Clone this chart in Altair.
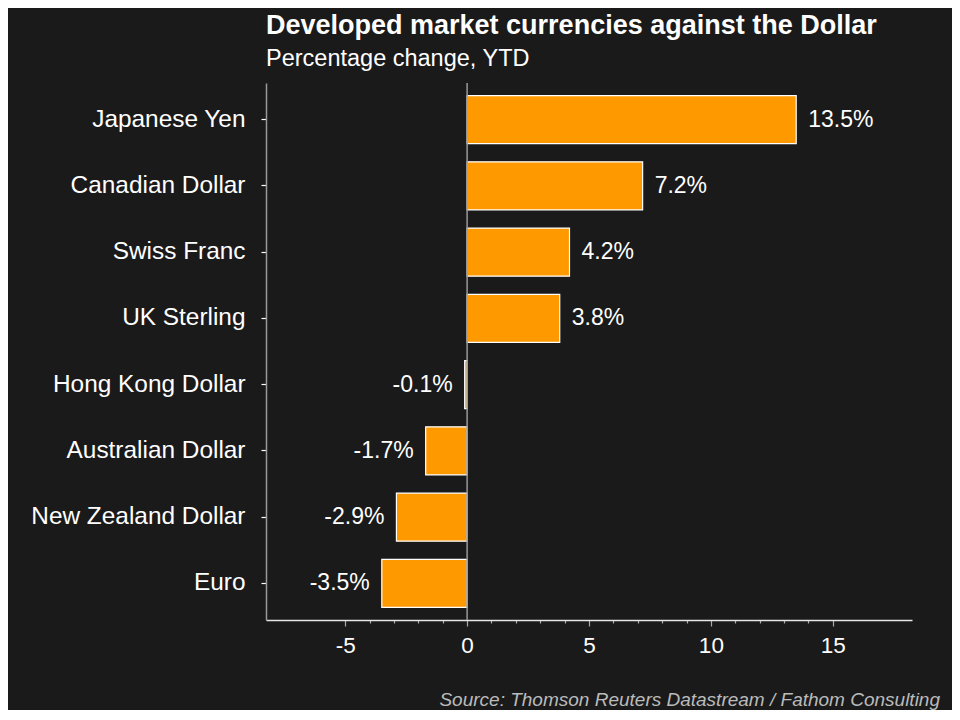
import altair as alt
import pandas as pd

currencies = ["Japanese Yen", "Canadian Dollar", "Swiss Franc", "UK Sterling",
              "Hong Kong Dollar", "Australian Dollar", "New Zealand Dollar", "Euro"]
changes = [13.5, 7.2, 4.2, 3.8, -0.1, -1.7, -2.9, -3.5]
x_ticks = list(range(-5, 16))

df = pd.DataFrame({"currency": currencies, "change": changes})
df["label"] = [f"{v:.1f}%" for v in changes]

FONT = "Liberation Sans"
W, H = 646, 537

x_scale = alt.Scale(domain=[-8.25, 18.25], nice=False, zero=False)
y_scale = alt.Scale(domain=currencies, paddingInner=0.274, paddingOuter=0.19)

x_axis = alt.Axis(values=x_ticks, grid=False,
                  labelExpr="datum.value % 5 === 0 ? ('' + datum.value) : ''",
                  labelOverlap=False, labelFontSize=22.5, labelColor="white",
                  labelFont=FONT, labelPadding=8, labelFlush=False,
                  domainColor="#e6e6e6", domainWidth=1.5,
                  tickColor="#aaaaaa", tickWidth=1.2,
                  tickSize={"condition": {"test": "datum.value % 5 === 0", "value": 6}, "value": 3})
y_axis = alt.Axis(labelFontSize=24.4, labelColor="white", labelFont=FONT,
                  labelPadding=16, tickSize=5, tickColor="white", tickWidth=1.2,
                  domainColor="#999999", domainWidth=1.5, labelLimit=400)

X = alt.X("change:Q", scale=x_scale, title=None, axis=x_axis)
Y = alt.Y("currency:N", scale=y_scale, sort=currencies, title=None, axis=y_axis)

base = alt.Chart(df)

bars = base.mark_bar(color="#FF9900", stroke="white", strokeWidth=1.2).encode(x=X, y=Y)

zero = alt.Chart(pd.DataFrame({"change": [0]})).mark_rule(color="#999999", strokeWidth=1.5).encode(x=X)

pos_text = base.transform_filter("datum.change >= 0").mark_text(
    align="left", baseline="middle", dx=12, fontSize=23, font=FONT, color="white"
).encode(x=X, y=Y, text="label:N")

neg_text = base.transform_filter("datum.change < 0").mark_text(
    align="right", baseline="middle", dx=-12, fontSize=23, font=FONT, color="white"
).encode(x=X, y=Y, text="label:N")

source = alt.Chart(pd.DataFrame({"s": ["Source: Thomson Reuters Datastream / Fathom Consulting"]})).mark_text(
    align="right", baseline="alphabetic", fontSize=19, font=FONT, fontStyle="italic", color="#bbbbbb"
).encode(x=alt.value(674), y=alt.value(623), text="s:N")

chart = alt.layer(bars, zero, pos_text, neg_text, source).properties(
    width=W, height=H,
    background="#1a1a1a",
    autosize=alt.AutoSizeParams(type="none"),
    padding={"left": 258, "top": 75, "right": 40, "bottom": 90},
    title=alt.Title("Developed market currencies against the Dollar",
                    subtitle="Percentage change, YTD",
                    anchor="start", frame="group", font=FONT, fontSize=27, fontWeight="bold",
                    color="white", subtitleFont=FONT, subtitleFontSize=23.5, subtitleColor="white",
                    subtitlePadding=7, offset=11),
).configure_view(stroke=None).configure_axis(labelOverlap=False)

chart.save("out.html", embed_options={"renderer": "svg", "actions": False})
